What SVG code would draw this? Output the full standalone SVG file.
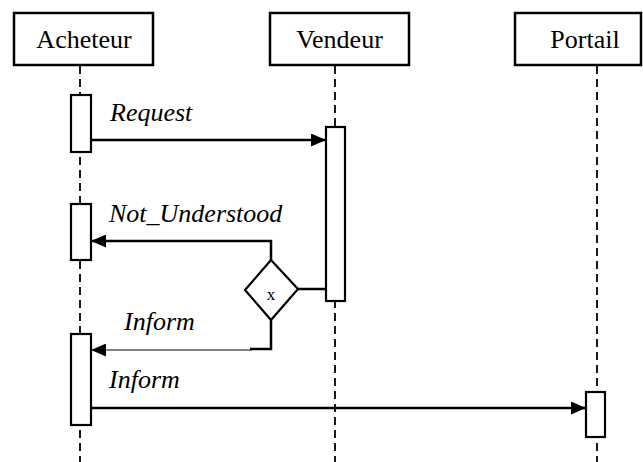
<svg xmlns="http://www.w3.org/2000/svg" width="643" height="462" viewBox="0 0 643 462">
<style>
.box{fill:#fff;stroke:#000;stroke-width:2.5}
.life{stroke:#000;stroke-width:1.8;stroke-dasharray:8 5;fill:none}
.act{fill:#fff;stroke:#000;stroke-width:2.2}
.msg{stroke:#000;stroke-width:2.5;fill:none}
.thin{stroke:#000;stroke-width:1.2;fill:none}
</style>
<defs>
<marker id="ah" markerWidth="15" markerHeight="13" refX="15" refY="6.5" orient="auto" markerUnits="userSpaceOnUse">
<path d="M0,0 L15,6.5 L0,13 Z" fill="#000"/>
</marker>
</defs>
<rect width="643" height="462" fill="#fff"/>
<g id="lifelines">
<line class="life" x1="80" y1="66" x2="80" y2="462"/>
<line class="life" x1="335" y1="66" x2="335" y2="462"/>
<line class="life" x1="597" y1="66" x2="597" y2="462"/>
</g>
<g font-family="'Liberation Serif', 'Times New Roman', serif" font-size="26" text-anchor="middle">
<g id="acheteur">
<rect class="box" x="14" y="13" width="139" height="52"/>
<text x="84" y="48">Acheteur</text>
</g>
<g id="vendeur">
<rect class="box" x="270" y="13" width="139" height="52"/>
<text x="339.5" y="48">Vendeur</text>
</g>
<g id="portail">
<rect class="box" x="515" y="13" width="126" height="52"/>
<text x="585" y="48">Portail</text>
</g>
</g>
<g id="activations">
<rect class="act" x="71" y="95" width="20" height="57"/>
<rect class="act" x="326" y="127" width="19" height="174"/>
<rect class="act" x="71" y="204" width="20" height="56"/>
<rect class="act" x="71" y="334" width="20" height="91"/>
<rect class="act" x="586" y="392" width="19" height="45"/>
</g>
<g id="decision">
<polygon points="271,260 298,289 271,320 245,290" fill="#fff" stroke="#000" stroke-width="2.2"/>
<text x="271" y="300" font-family="'Liberation Serif', serif" font-size="17" text-anchor="middle">x</text>
</g>
<g id="connectors">
<line class="msg" x1="91" y1="140" x2="326" y2="140" marker-end="url(#ah)"/>
<polyline class="msg" points="271,260 271,241 91,241" marker-end="url(#ah)"/>
<line class="msg" x1="298" y1="289" x2="326" y2="289"/>
<polyline class="msg" points="271,320 271,349 250,349"/>
<line class="thin" x1="252" y1="350" x2="91" y2="350" marker-end="url(#ah)"/>
<line class="msg" x1="91" y1="408" x2="586" y2="408" marker-end="url(#ah)"/>
</g>
<g id="labels" font-family="'Liberation Serif', 'Times New Roman', serif" font-size="26" font-style="italic">
<text x="110" y="121">Request</text>
<text x="109" y="222">Not_Understood</text>
<text x="124" y="330">Inform</text>
<text x="109" y="388">Inform</text>
</g>
</svg>
